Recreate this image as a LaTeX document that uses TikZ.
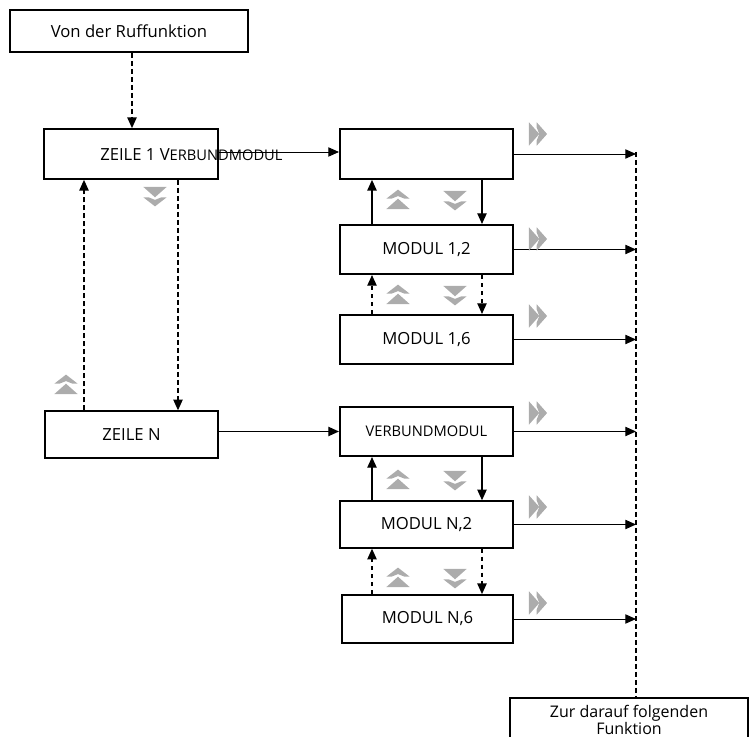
\documentclass[tikz,border=0pt]{standalone}
\usepackage{fontspec}
\setmainfont{Open Sans}
\usetikzlibrary{arrows.meta}
\begin{document}
\begin{tikzpicture}[x=0.75pt,y=-0.75pt,
  box/.style={draw,line width=1.3pt,inner sep=0pt,font=\fontsize{12.5}{13}\selectfont,align=center},
  arr/.style={-{Triangle[length=8pt,width=7pt]},line width=1pt},
  darr/.style={arr,dashed,dash pattern=on 4pt off 2pt},
  gup/.pic={\fill[gray!65,scale=1.3] (-9,-1)--(0,-8)--(9,-1)--(5,-1)--(0,-3)--(-5,-1)--cycle;
            \fill[gray!65,scale=1.3] (-9,7)--(0,-1)--(9,7)--cycle;},
  gdn/.pic={\fill[gray!65,scale=1.3] (-9,-7)--(9,-7)--(0,1)--cycle;
            \fill[gray!65,scale=1.3] (-9,1)--(-5,1)--(0,3)--(5,1)--(9,1)--(0,8)--cycle;},
  grt/.pic={\fill[gray!65,scale=1.3] (-7,-9)--(1,0)--(-7,9)--cycle;
            \fill[gray!65,scale=1.3] (-1,-9)--(7,0)--(-1,9)--(-1,5)--(1,0)--(-1,-5)--cycle;}]
\useasboundingbox (0,0) rectangle (751,737);
\node[box,minimum width=179pt,minimum height=31.5pt] (ruf) at (129,31) {Von der Ruffunktion};
\node[box,minimum width=130pt,minimum height=37.5pt] (z1) at (131,154) {};
\node[font=\fontsize{12.5}{13}\selectfont,anchor=west,inner sep=0pt] (z1t) at (100,155) {ZEILE 1 V{\fontsize{11}{12}\selectfont ERBUNDMODUL}};
\node[box,minimum width=130pt,minimum height=37.5pt] (v1) at (426.5,154) {};
\node[box,minimum width=130pt,minimum height=37pt] (m12) at (426.5,249.5) {MODUL 1,2};
\node[box,minimum width=130pt,minimum height=37pt] (m16) at (426.5,339.5) {MODUL 1,6};
\node[box,minimum width=130pt,minimum height=35pt] (zn) at (131.5,434.5) {ZEILE N};
\node[box,minimum width=130pt,minimum height=37pt] (vn) at (426.5,431.5) {{\fontsize{11}{12}\selectfont VERBUNDMODUL}};
\node[box,minimum width=130pt,minimum height=35pt] (mn2) at (426.5,524.5) {MODUL N,2};
\node[box,minimum width=128pt,minimum height=36pt] (mn6) at (427.5,619) {MODUL N,6};
\node[box,minimum width=178pt,minimum height=33pt,anchor=north,font=\fontsize{12}{9.5}\selectfont,inner sep=1pt] (end) at (629,697) {Zur darauf folgenden\\Funktion};
\coordinate (top) at (636,152);
\draw[darr] (ruf.south -| 132,0) -- (z1.north -| 132,0);
\draw[arr,line width=0.7pt] (z1.east |- 0,152) -- (v1.west |- 0,152);
\draw[darr] (zn.north -| 84,0) -- (z1.south -| 84,0);
\draw[darr] (z1.south -| 178,0) -- (zn.north -| 178,0);
\draw[arr] (zn.east |- vn.west) -- (vn.west);
\foreach \a/\b/\s in {v1/m12/solid,m12/m16/dashed,vn/mn2/solid,mn2/mn6/dashed}{
  \draw[arr,\s] (\b.north -| 372,0) -- (\a.south -| 372,0);
  \draw[arr,\s] (\a.south -| 482,0) -- (\b.north -| 482,0);}
\foreach \n in {v1,m12,m16,vn,mn2,mn6}{\draw[arr,line width=0.7pt] (\n.east) -- (\n.east -| top);}
\draw[dashed,dash pattern=on 4pt off 2pt,line width=0.9pt] (top) -- (end.north -| top);
\foreach \y in {134,239,316,413,507,603} \pic at (538,\y) {grt};
\foreach \y in {200,295,480,578} {\pic at (398,\y) {gup}; \pic at (455,\y) {gdn};}
\pic at (66,385) {gup};
\pic at (155,196) {gdn};
\end{tikzpicture}
\end{document}
